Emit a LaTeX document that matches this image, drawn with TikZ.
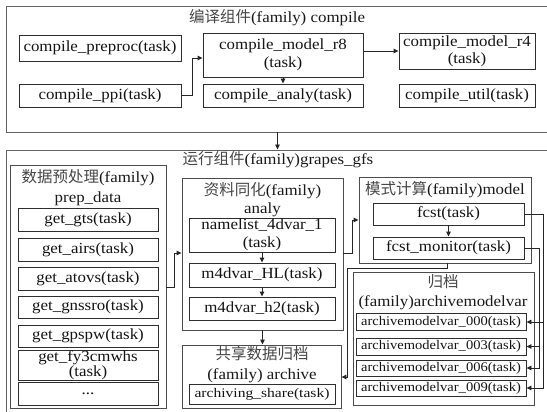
\documentclass[tikz,border=0pt]{standalone}
\usepackage{fontspec}
\setmainfont[FakeStretch=1.09]{Liberation Serif}
\newfontfamily\cjk{Noto Sans CJK SC}
\newfontfamily\archfont[FakeStretch=1.1]{Liberation Serif}
\newfontfamily\sharefont[FakeStretch=1.18]{Liberation Serif}
\usetikzlibrary{arrows.meta}
\newcommand{\zh}[1]{{\cjk\fontsize{15.5}{17}\selectfont\color{black!72}#1}}

\tikzset{
  outerbox/.style={draw=black!62, line width=0.9pt, inner sep=0pt},
  groupbox/.style={draw=black!70, line width=0.9pt, inner sep=0pt},
  taskbox/.style={draw=black!82, line width=0.9pt, inner sep=0pt, align=center,
    text=black!92, font=\fontsize{15.5}{18}\selectfont},
  archtask/.style={taskbox, font=\archfont\fontsize{13.2}{14}\selectfont},
  sharetask/.style={taskbox, font=\sharefont\fontsize{13.2}{14}\selectfont},
  titletext/.style={inner sep=0pt, align=center, text=black!90,
    font=\fontsize{15.5}{18}\selectfont},
  conn/.style={draw=black!85, line width=0.9pt, -{Triangle[length=5pt,width=4.5pt]}},
}

\begin{document}
\begin{tikzpicture}[x=1pt,y=-1pt]
\fill[white] (0,0) rectangle (547,412);
\useasboundingbox (0,0) rectangle (547,412);

% ---------- compile family ----------
\node[outerbox, minimum width=543, minimum height=126] (compile) at (277.5,69) {};
\node[titletext] (ctitle) at (277,18) {\zh{编译组件}(family) compile};

\node[taskbox, minimum width=162, minimum height=26] (preproc) at (100,48) {compile\_preproc(task)};
\node[taskbox, minimum width=162, minimum height=23] (ppi) at (100,95.5) {compile\_ppi(task)};
\node[taskbox, minimum width=160, minimum height=44] (r8) at (283,55) {compile\_model\_r8\\(task)};
\node[taskbox, minimum width=160, minimum height=23] (canaly) at (283,95.5) {compile\_analy(task)};
\node[taskbox, minimum width=136, minimum height=36, font=\fontsize{15.5}{17}\selectfont] (r4) at (467,51) {compile\_model\_r4\\(task)};
\node[taskbox, minimum width=136, minimum height=23] (util) at (467,95.5) {compile\_util(task)};

\coordinate (ppibend) at (192,58);
\draw[conn] (ppi.east) -| (ppibend) -- (ppibend -| r8.west);
\draw[conn] (r8.east |- r4.west) -- (r4.west);
\draw[conn] (r8.south) -- (canaly.north);

% ---------- run family ----------
\node[outerbox, minimum width=543, minimum height=264] (run) at (277.5,282) {};
\draw[conn] (compile.south) -- (run.north);
\node[titletext] (rtitle) at (278,160) {\zh{运行组件}(family)grapes\_gfs};

% data preprocessing
\node[groupbox, minimum width=156, minimum height=243] (prep) at (88,286.5) {};
\node[titletext, font=\fontsize{15.5}{20}\selectfont] (ptitle) at (88,188) {\zh{数据预处理}(family)\\prep\_data};
\node[taskbox, minimum width=140, minimum height=23] (gts) at (88,219.5) {get\_gts(task)};
\node[taskbox, minimum width=140, minimum height=23] (airs) at (88,249.5) {get\_airs(task)};
\node[taskbox, minimum width=140, minimum height=23] (atovs) at (88,278.5) {get\_atovs(task)};
\node[taskbox, minimum width=140, minimum height=22] (gnssro) at (88,307) {get\_gnssro(task)};
\node[taskbox, minimum width=140, minimum height=22] (gpspw) at (88,336) {get\_gpspw(task)};
\node[taskbox, minimum width=140, minimum height=25, font=\fontsize{15.5}{12.5}\selectfont] (fy3) at (88,365.5) {get\_fy3cmwhs\\(task)};
\node[taskbox, minimum width=140, minimum height=23] (dots) at (88,393.5) {...};

% assimilation
\node[groupbox, minimum width=161, minimum height=152] (analy) at (262.5,254) {};
\node[titletext] (atitle) at (262.5,200) {\zh{资料同化}(family)\\analy};
\node[taskbox, minimum width=146, minimum height=34] (namelist) at (262,235) {namelist\_4dvar\_1\\(task)};
\node[taskbox, minimum width=146, minimum height=24] (hl) at (262,275) {m4dvar\_HL(task)};
\node[taskbox, minimum width=146, minimum height=23] (h2) at (262,308.5) {m4dvar\_h2(task)};
\draw[conn] (namelist.south) -- (hl.north);
\draw[conn] (hl.south) -- (h2.north);

% shared archive
\node[groupbox, minimum width=159, minimum height=63] (archive) at (261.5,376.5) {};
\node[titletext, font=\fontsize{15.5}{20}\selectfont] (shtitle) at (262,365) {\zh{共享数据归档}\\(family) archive};
\node[sharetask, minimum width=146, minimum height=20] (share) at (262,394) {archiving\_share(task)};
\draw[conn] (analy.south) -- (analy.south |- archive.north);

% model
\node[groupbox, minimum width=172, minimum height=86] (model) at (445,220) {};
\node[titletext] (mtitle) at (445,190) {\zh{模式计算}(family)model};
\node[taskbox, minimum width=151, minimum height=22] (fcst) at (448.5,214) {fcst(task)};
\node[taskbox, minimum width=151, minimum height=22] (monitor) at (448.5,248) {fcst\_monitor(task)};
\draw[conn] (fcst.south) -- (monitor.north);

% model archive
\node[groupbox, minimum width=181, minimum height=133] (amv) at (443.5,338.5) {};
\node[titletext, font=\fontsize{15.5}{19}\selectfont] (amvtitle) at (443,292.5) {\zh{归档}\\(family)archivemodelvar};
\node[archtask, minimum width=170, minimum height=17] (a000) at (441,322) {archivemodelvar\_000(task)};
\node[archtask, minimum width=170, minimum height=17] (a003) at (441,346.5) {archivemodelvar\_003(task)};
\node[archtask, minimum width=170, minimum height=16] (a006) at (441,368) {archivemodelvar\_006(task)};
\node[archtask, minimum width=170, minimum height=16] (a009) at (441,388) {archivemodelvar\_009(task)};

% connectors between families
\coordinate (pabend) at (174,253);
\draw[conn] (prep.east |- 0,287) -| (pabend) -- (pabend -| analy.west);
\coordinate (ambend) at (352,220);
\draw[conn] (analy.east |- pabend) -| (ambend) -- (ambend -| model.west);
\coordinate (mabend1) at (447,268);
\coordinate (mabend2) at (347,377);
\draw[conn] (model.south -| mabend1) -- (mabend1) -| (mabend2) -- (mabend2 -| archive.east);

\coordinate (fcstend) at (543,388);
\coordinate (monend) at (539,368);
\draw[conn] (fcst.east) -| (fcstend) -- (a009.east);
\draw[conn] (fcstend |- a000.east) -- (a000.east);
\draw[conn] (monitor.east) -| (monend) -- (a006.east);
\draw[conn] (monend |- a003.east) -- (a003.east);
\end{tikzpicture}
\end{document}
